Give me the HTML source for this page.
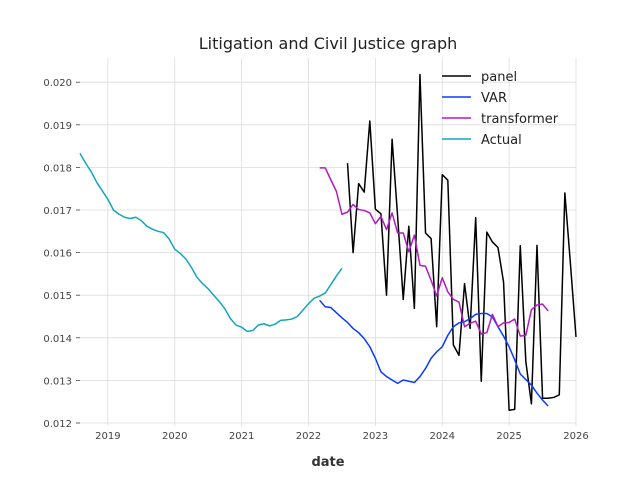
<!DOCTYPE html>
<html><head><meta charset="utf-8"><style>
body{margin:0;background:#fff;}
svg{font-family:"DejaVu Sans","Liberation Sans",sans-serif;}
</style></head><body>
<svg id="chart" width="640" height="480"></svg>
<script>
const yTicks=[0.012,0.013,0.014,0.015,0.016,0.017,0.018,0.019,0.020];
const xTickYears=[2019,2020,2021,2022,2023,2024,2025,2026];
const actualStart=[2018,8];
const actualValues=[0.01833,0.0181,0.0179,0.01765,0.01745,0.01725,0.01700,0.01690,0.01683,0.01680,0.01683,0.01675,0.01662,0.01655,0.01650,0.01647,0.01632,0.01608,0.01598,0.01585,0.01565,0.01542,0.01527,0.01515,0.01500,0.01485,0.01468,0.01445,0.01430,0.01425,0.01415,0.01417,0.01430,0.01433,0.01428,0.01432,0.01441,0.01442,0.01444,0.01450,0.01465,0.01480,0.01493,0.01498,0.01505,0.01525,0.01545,0.01563];
const varStart=[2022,3];
const varValues=[0.01488,0.01473,0.01471,0.01459,0.01447,0.01436,0.01422,0.01412,0.01398,0.01379,0.01352,0.01320,0.01309,0.01301,0.01293,0.01301,0.01298,0.01295,0.01309,0.01328,0.01352,0.01367,0.01379,0.01406,0.01426,0.01435,0.01438,0.01445,0.01455,0.01457,0.01457,0.01449,0.01426,0.01404,0.01379,0.01348,0.01315,0.01302,0.01289,0.01270,0.01254,0.01240];
const transformerStart=[2022,3];
const transformerValues=[0.01799,0.01799,0.01771,0.01744,0.01690,0.01695,0.01713,0.01701,0.01699,0.01693,0.01668,0.01685,0.01654,0.01693,0.01646,0.01646,0.01602,0.01641,0.01570,0.01568,0.01535,0.01498,0.01541,0.01508,0.01490,0.01484,0.01426,0.01434,0.01439,0.01409,0.01412,0.01455,0.01426,0.01435,0.01436,0.01444,0.01404,0.01406,0.01466,0.01477,0.01479,0.01463];
const panelStart=[2022,8];
const panelValues=[0.01810,0.01600,0.01762,0.01742,0.01909,0.01702,0.01691,0.01500,0.01866,0.01684,0.01490,0.01662,0.01469,0.02018,0.01646,0.01633,0.01426,0.01783,0.01770,0.01383,0.01359,0.01527,0.01422,0.01682,0.01298,0.01648,0.01625,0.01612,0.01531,0.01230,0.01232,0.01616,0.01344,0.01245,0.01617,0.01258,0.01258,0.01260,0.01266,0.01740,0.01574,0.01402];

const NS="http://www.w3.org/2000/svg";
const svg=document.getElementById('chart');
const L=80,R=576,T=58,B=423;
const xMin=2018+7/12, xMax=2026;
function xs(t){return L+(t-xMin)/(xMax-xMin)*(R-L);}
function ys(v){return B-(v-0.012)/0.001*42.6;}
function mk(tag,attrs,parent){const e=document.createElementNS(NS,tag);for(const k in attrs)e.setAttribute(k,attrs[k]);(parent||svg).appendChild(e);return e;}

const grid=mk('g',{});


yTicks.forEach(v=>{
  const y=ys(v);
  const ln=mk('line',{x1:L,x2:R,y1:y,y2:y,stroke:'#dcdcdc','stroke-width':0.8},grid);
  
  
  const tk=mk('line',{x1:L-4,x2:L,y1:y,y2:y,stroke:'#444','stroke-width':0.8});
  
  
  const t=mk('text',{x:L-8,y:y+4,'text-anchor':'end','font-size':10,fill:'#444'});
  t.textContent=v.toFixed(3);
  
  
});
xTickYears.forEach(yr=>{
  const x=xs(yr);
  const ln=mk('line',{x1:x,x2:x,y1:T,y2:B+3,stroke:'#dcdcdc','stroke-width':0.8},grid);
  
  
  const t=mk('text',{x:x,y:B+16,'text-anchor':'middle','font-size':10,fill:'#444'});
  t.textContent=yr;
  
  
});

function series(start,vals,color,name){
  const pts=vals.map((v,i)=>{const t=start[0]+(start[1]-1+i)/12;return xs(t).toFixed(2)+','+ys(v).toFixed(2);});
  const p=mk('polyline',{points:pts.join(' '),fill:'none',stroke:color,'stroke-width':1.5,'stroke-linejoin':'round'});
  
  
}
series(actualStart,actualValues,'#12a6bd','actual-line');
series(panelStart,panelValues,'#000000','panel-line');
series(varStart,varValues,'#0a3cff','var-line');
series(transformerStart,transformerValues,'#b01cc2','transformer-line');

const title=mk('text',{x:328,y:49,'text-anchor':'middle','font-size':16,fill:'#222'});
title.textContent='Litigation and Civil Justice graph';


const xl=mk('text',{x:328,y:466,'text-anchor':'middle','font-size':13,'font-weight':'bold',fill:'#333'});
xl.textContent='date';



const legend=mk('g',{});


[['panel','#000000'],['VAR','#0a3cff'],['transformer','#b01cc2'],['Actual','#12a6bd']].forEach((e,i)=>{
  const y=76+i*21;
  const g=mk('g',{},legend);
  
  
  mk('line',{x1:442,x2:471,y1:y,y2:y,stroke:e[1],'stroke-width':1.5},g);
  const t=mk('text',{x:481,y:y+5,'font-size':13,fill:'#222'},g);
  t.textContent=e[0];
});
</script>
</body></html>
